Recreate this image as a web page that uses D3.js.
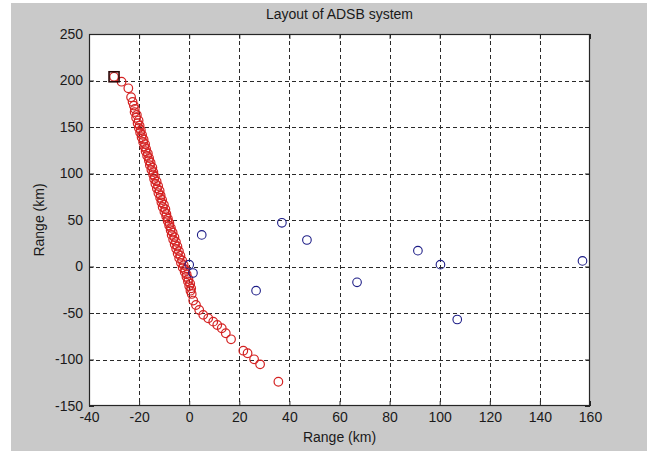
<!DOCTYPE html>
<html>
<head>
<meta charset="utf-8">
<script src="https://cdn.jsdelivr.net/npm/d3@7/dist/d3.min.js"></script>
<style>
  html, body { margin: 0; padding: 0; background: #ffffff; }
  svg text { font-family: "Liberation Sans", Arial, sans-serif; fill: #1a1a1a; }
</style>
</head>
<body>
<div id="chart"></div>
<script>
// ground stations (blue)
var stationX = [0, 1.5, 5, 26.7, 37, 47, 67, 91.3, 100.3, 107, 157];
var stationY = [2, -7, 34, -26, 47, 28.5, -17, 17, 2, -57, 6];

// aircraft track (red)
var trackX = [-30, -27, -24.3, -23.2, -22.6, -22.1, -21.7,
  -21.8, -20.9, -21.2, -20.2, -20.6, -19.8, -20.1, -19.3, -19.6, -18.8, -19.0, -18.2, -18.4, -17.6, -17.9, -17.2, -17.4, -16.5,
  -16.8, -16.0, -16.1, -15.4, -15.7, -14.7, -15.1, -14.3, -14.4, -13.7, -14.0, -13.0, -13.5, -12.4, -12.9, -11.8, -12.3, -11.4,
  -11.6, -10.8, -11.1, -10.1, -10.6, -9.5, -9.9, -9.1, -9.2, -8.5, -8.6, -7.9, -8.0, -7.3, -7.4, -6.6, -7.0, -5.9, -6.4, -5.3,
  -5.8, -4.7, -5.2, -4.1, -4.6, -3.5, -4.0, -2.8, -3.3, -2.2, -2.6, -1.6, -1.8, -1.0, -1.1, -0.3, -0.5, 0.4, 0.0, 0.8,
  0.5, 1.0, 1.6, 2.7, 4.0, 5.6, 7.6, 9.6, 11.2, 13.0, 14.6, 16.7, 21.6, 23.3, 25.9, 28.3, 35.6];
var trackY = [204, 198.7, 191.6, 182, 177, 173, 169.5,
  166, 163, 160, 157, 154, 151.5, 149, 146.5, 144, 141.5, 139, 136.5, 134, 131.5, 129, 126.5, 124, 121.5,
  119, 116.5, 114, 111.5, 109, 106.5, 104, 101.5, 99, 96.5, 94, 91.5, 89, 86.5, 84, 81.5, 79, 76.5,
  74, 71.5, 69, 66.5, 64, 61.5, 59, 56.5, 54, 51.5, 49, 46.5, 44, 41.5, 39, 36.5, 34, 31.5, 29, 26.5,
  24, 21.5, 19, 16.5, 14, 11.5, 9, 6.5, 4, 1.5, -1, -3.5, -6, -8.5, -11, -13.5, -16, -18.5, -21, -23.5,
  -26, -29.5, -36.6, -41.4, -46.8, -52, -55.7, -59.3, -62.9, -66.4, -71.8, -78.3, -90.5, -93.3, -99.8, -105.2, -123.9];

// start point (square)
var startX = [-30];
var startY = [204];

var xTicks = [-40, -20, 0, 20, 40, 60, 80, 100, 120, 140, 160];
var yTicks = [-150, -100, -50, 0, 50, 100, 150, 200, 250];

var W = 647, H = 451;
var pLeft = 89, pRight = 590, pTop = 34, pBottom = 406;

var svg = d3.select("#chart").append("svg")
    .attr("width", W)
    .attr("height", H);

// figure background
svg.append("rect")
    .attr("x", 11).attr("y", 3)
    .attr("width", W - 11).attr("height", H - 3)
    .attr("fill", "#c9c9c9");

var x = d3.scaleLinear().domain([-40, 160]).range([pLeft, pRight]);
var y = d3.scaleLinear().domain([-150, 250]).range([pBottom, pTop]);

// plot area
svg.append("rect")
    .attr("x", pLeft).attr("y", pTop)
    .attr("width", pRight - pLeft).attr("height", pBottom - pTop)
    .attr("fill", "#ffffff");

// grid
var grid = svg.append("g").attr("stroke", "#2a2a2a").attr("stroke-width", 1).attr("stroke-dasharray", "4,3");
grid.selectAll(".gx").data(xTicks.slice(1, -1)).enter().append("line")
    .attr("x1", function (d) { return Math.round(x(d)) + 0.5; })
    .attr("x2", function (d) { return Math.round(x(d)) + 0.5; })
    .attr("y1", pTop).attr("y2", pBottom);
grid.selectAll(".gy").data(yTicks.slice(1, -1)).enter().append("line")
    .attr("y1", function (d) { return Math.round(y(d)) + 0.5; })
    .attr("y2", function (d) { return Math.round(y(d)) + 0.5; })
    .attr("x1", pLeft).attr("x2", pRight);

// track
var track = trackX.map(function (d, i) { return [d, trackY[i]]; });
svg.append("g").selectAll("circle").data(track).enter().append("circle")
    .attr("cx", function (d) { return x(d[0]); })
    .attr("cy", function (d) { return y(d[1]); })
    .attr("r", 4.3)
    .attr("fill", "none")
    .attr("stroke", "#d42222")
    .attr("stroke-width", 1.2);

// stations
var stations = stationX.map(function (d, i) { return [d, stationY[i]]; });
svg.append("g").selectAll("circle").data(stations).enter().append("circle")
    .attr("cx", function (d) { return x(d[0]); })
    .attr("cy", function (d) { return y(d[1]); })
    .attr("r", 4.3)
    .attr("fill", "none")
    .attr("stroke", "#1c1c86")
    .attr("stroke-width", 1.1);

// start marker
svg.append("g").selectAll("rect").data(startX).enter().append("rect")
    .attr("x", function (d) { return x(d) - 5; })
    .attr("y", function (d, i) { return y(startY[i]) - 5; })
    .attr("width", 10).attr("height", 10)
    .attr("fill", "none")
    .attr("stroke", "#2a0606")
    .attr("stroke-width", 1.6);

// axes (ticks point inward like matlab)
var fs = "14px";
var plain = function (d) { return String(d); };
var gx = svg.append("g").attr("transform", "translate(0," + pBottom + ")")
    .call(d3.axisBottom(x).tickValues(xTicks).tickFormat(plain).tickSizeInner(-5).tickSizeOuter(0).tickPadding(6));
var gxTop = svg.append("g").attr("transform", "translate(0," + pTop + ")")
    .call(d3.axisTop(x).tickValues(xTicks).tickSizeInner(-5).tickSizeOuter(0).tickFormat(""));
var gy = svg.append("g").attr("transform", "translate(" + pLeft + ",0)")
    .call(d3.axisLeft(y).tickValues(yTicks).tickFormat(plain).tickSizeInner(-5).tickSizeOuter(0).tickPadding(6));
var gyRight = svg.append("g").attr("transform", "translate(" + pRight + ",0)")
    .call(d3.axisRight(y).tickValues(yTicks).tickSizeInner(-5).tickSizeOuter(0).tickFormat(""));

[gx, gxTop, gy, gyRight].forEach(function (g) {
    g.select(".domain").remove();
    g.selectAll(".tick line").attr("stroke", "#262626");
    g.selectAll("text").style("font-size", fs).attr("fill", "#1a1a1a");
});

// box
svg.append("rect")
    .attr("x", pLeft + 0.5).attr("y", pTop + 0.5)
    .attr("width", pRight - pLeft - 1).attr("height", pBottom - pTop - 1)
    .attr("fill", "none")
    .attr("stroke", "#262626")
    .attr("stroke-width", 1.2);

// title & labels
svg.append("text")
    .attr("x", (pLeft + pRight) / 2).attr("y", 19)
    .attr("text-anchor", "middle")
    .style("font-size", "14px")
    .text("Layout of ADSB system");

svg.append("text")
    .attr("x", (pLeft + pRight) / 2).attr("y", 442)
    .attr("text-anchor", "middle")
    .style("font-size", "14px")
    .text("Range (km)");

svg.append("text")
    .attr("transform", "translate(44," + (pTop + pBottom) / 2 + ") rotate(-90)")
    .attr("text-anchor", "middle")
    .style("font-size", "14px")
    .text("Range (km)");
</script>
</body>
</html>
